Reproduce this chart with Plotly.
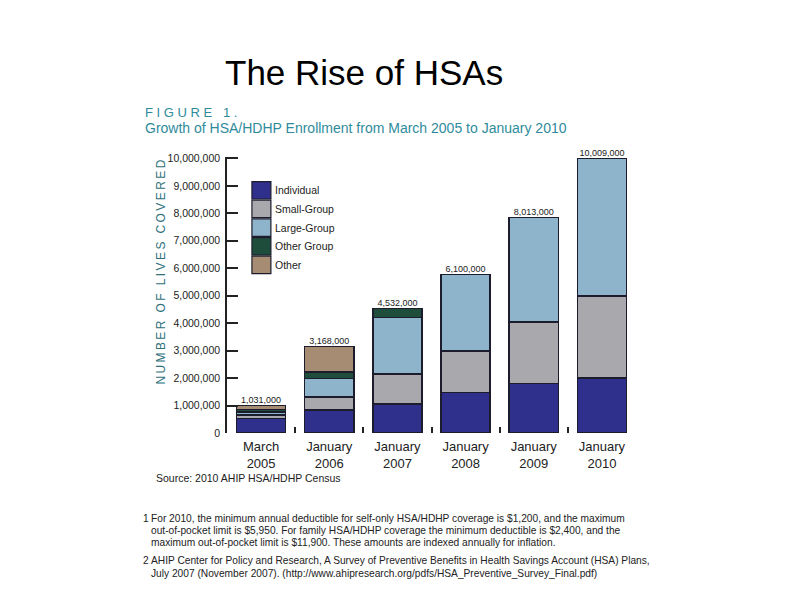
import plotly.graph_objects as go

# ---------------- data ----------------
periods = ["March<br>2005", "January<br>2006", "January<br>2007",
           "January<br>2008", "January<br>2009", "January<br>2010"]
series_names = ["Individual", "Small-Group", "Large-Group", "Other Group", "Other"]
individual = [520000, 840000, 1050000, 1480000, 1810000, 2000000]
small_group = [130000, 470000, 1100000, 1500000, 2240000, 2990000]
large_group = [120000, 680000, 2050000, 2800000, 3790000, 5010000]
other_group = [80000, 230000, 340000, 0, 0, 0]
other = [150000, 930000, 0, 0, 0, 0]
total_labels = ["1,031,000", "3,168,000", "4,532,000", "6,100,000", "8,013,000", "10,009,000"]
y_ticks = [0, 1000000, 2000000, 3000000, 4000000, 5000000,
           6000000, 7000000, 8000000, 9000000, 10000000]

series_values = [individual, small_group, large_group, other_group, other]
colors = ["#2f2f8c", "#a9a9ad", "#8eb4cc", "#1f4d3c", "#a58c72"]
outline = "#1c1c2c"

# ---------------- geometry (page pixel coordinates) ----------------
OFF = 8                      # default page body margin
VW, VH = 793, 596
W, H = VW - OFF, VH - OFF
L, R = 226.5, 636.5
B = 433.3
YMAX = 10050000
T = B - YMAX / 1e6 * 27.5

def px(x):
    return (x - L) / (R - L)

def py(y):
    return (B - y) / (B - T)

FONT = "Liberation Sans, Arial, sans-serif"
TEAL = "#2f8b9c"

fig = go.Figure()
for name, vals, col in zip(series_names, series_values, colors):
    fig.add_trace(go.Bar(
        x=periods, y=vals, name=name,
        marker=dict(color=col, line=dict(color=outline, width=1.5)),
        showlegend=False,
    ))

totals = [sum(v[i] for v in series_values) for i in range(len(periods))]
fig.add_trace(go.Scatter(
    x=periods, y=totals, mode="text", text=total_labels,
    textposition="top center", textfont=dict(size=9, color="#222", family=FONT),
    showlegend=False, cliponaxis=False, hoverinfo="skip",
))

fig.update_layout(
    width=W, height=H,
    margin=dict(l=L - OFF, r=VW - R, t=T - OFF, b=VH - B, pad=0),
    paper_bgcolor="white", plot_bgcolor="white",
    barmode="stack", bargap=0.28,
    font=dict(family=FONT, color="#222"),
    showlegend=False,
)
fig.update_xaxes(
    type="category", showline=False, showgrid=False, zeroline=False,
    ticks="inside", tickson="boundaries", ticklen=6, tickwidth=1.5, tickcolor="#222",
    tickfont=dict(size=13, color="#222", family=FONT),
    ticklabelstandoff=4,
)
fig.update_yaxes(
    range=[0, YMAX], showline=True, linecolor="#222", linewidth=1.5,
    showgrid=False, zeroline=False,
    ticks="inside", ticklen=11, tickwidth=2, tickcolor="#222",
    tickvals=y_ticks, tickformat=",",
    tickfont=dict(size=10.5, color="#222", family=FONT),
    ticklabelstandoff=3,
)

ann = []
shapes = []

def text(x, y, s, size, color="#222", xanchor="left", textangle=0):
    ann.append(dict(x=px(x), y=py(y), xref="paper", yref="paper", text=s,
                    showarrow=False, xanchor=xanchor, yanchor="middle",
                    textangle=textangle,
                    font=dict(size=size, color=color, family=FONT)))

# title and figure header
text(222, 72, "The Rise of HSAs", 35, color="#000")
text(142, 112, "F I G U R E   1 .", 13, color=TEAL)
text(142, 128, "Growth of HSA/HDHP Enrollment from March 2005 to January 2010", 14, color=TEAL)

# y axis title
spaced = "\u2009".join(list("NUMBER OF LIVES COVERED"))
text(160, 272, spaced, 12, color="#2e6f7a", xanchor="center", textangle=-90)

# legend (drawn)
leg_top = 181.5
step = 18.7
for i, (name, col) in enumerate(zip(series_names, colors)):
    y0 = leg_top + i * step
    shapes.append(dict(type="rect", xref="paper", yref="paper",
                       x0=px(251.5), x1=px(270.5), y0=py(y0), y1=py(y0 + 17.5),
                       fillcolor=col, line=dict(color=outline, width=1.2)))
    text(272.5, y0 + 8.8, name, 10.5, color="#222")

# source and footnotes
text(153, 478, "Source: 2010 AHIP HSA/HDHP Census", 10.5, color="#222")
foot = [
    (140, 519, "1"),
    (148, 519, "For 2010, the minimum annual deductible for self-only HSA/HDHP coverage is $1,200, and the maximum"),
    (148, 531, "out-of-pocket limit is $5,950. For family HSA/HDHP coverage the minimum deductible is $2,400, and the"),
    (148, 543, "maximum out-of-pocket limit is $11,900. These amounts are indexed annually for inflation."),
    (140, 561, "2"),
    (148, 561, "AHIP Center for Policy and Research, A Survey of Preventive Benefits in Health Savings Account (HSA) Plans,"),
    (148, 574, "July 2007 (November 2007). (http://www.ahipresearch.org/pdfs/HSA_Preventive_Survey_Final.pdf)"),
]
for x, y, s in foot:
    text(x, y, s, 10.2, color="#222")

fig.update_layout(annotations=ann, shapes=shapes)
fig.write_html("out.html")
